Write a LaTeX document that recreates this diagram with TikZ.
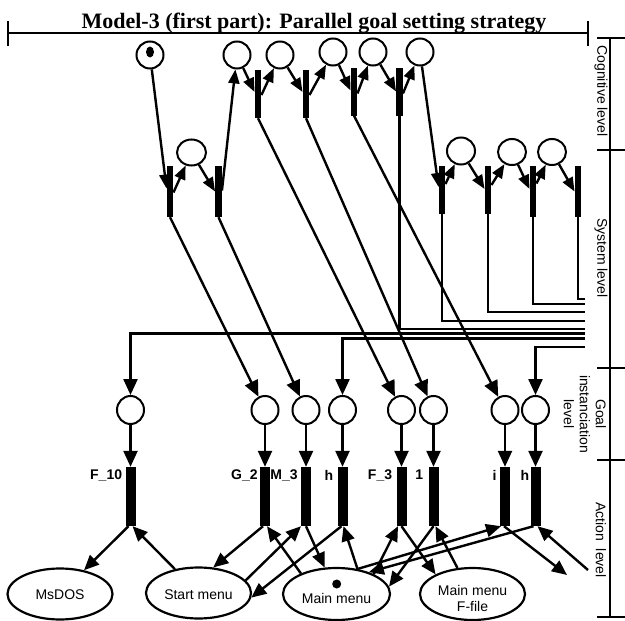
\documentclass[tikz,border=0pt]{standalone}
\usepackage{fontspec}
\setmainfont{Liberation Serif}
\setsansfont{Liberation Sans}
\usetikzlibrary{arrows.meta,shapes.geometric,calc}
\begin{document}
\begin{tikzpicture}[x=1pt,y=-1pt,
  bus/.style={line width=2.4pt},
  circ/.style={ellipse,draw,line width=2pt,minimum width=27pt,minimum height=27pt,inner sep=0pt},
  cbar/.style={rectangle,fill=black,minimum width=6.5pt,minimum height=48pt,inner sep=0pt},
  sbar/.style={cbar,minimum height=51pt},
  abar/.style={rectangle,fill=black,minimum width=10pt,minimum height=59pt,inner sep=0pt},
  conn/.style={line width=2.4pt,-{Triangle[length=14pt,width=11pt]}},
  bigconn/.style={line width=2.4pt,-{Triangle[length=16pt,width=14pt]}},
  aconn/.style={line width=2.4pt,-{Triangle[length=15pt,width=13pt]}},
  state/.style={ellipse,draw,line width=2.2pt,minimum width=105pt,minimum height=51pt,inner sep=0pt},
  stxt/.style={font=\sffamily\fontsize{14}{16}\selectfont,align=center,inner sep=0pt},
  lab/.style={font=\sffamily\bfseries\fontsize{14}{16}\selectfont,inner sep=0pt},
  lvl/.style={font=\sffamily\fontsize{14}{16}\selectfont,rotate=-90,inner sep=0pt,align=center},
]
\useasboundingbox (0,0) rectangle (625,621);

% title
\node[font=\bfseries\fontsize{22}{24}\selectfont,anchor=base,inner sep=0pt] (title) at (314,28) {Model-3 (first part): Parallel goal setting strategy};
\draw[bus] (8,33) -- (588,33);
\draw[bus] (8,21) -- (8,46);
\draw[bus] (588,21) -- (588,46);

% level scale
\draw[bus] (610,38) -- (610,617);
\foreach \y in {38,150,368,460,617} \draw[bus] (597,\y) -- (625,\y);
\node[lvl] (lcog) at (601,91) {Cognitive level};
\node[lvl] (lsys) at (601,258) {System level};
\node[lvl] (lgoal) at (585,414) {Goal\\instanciation\\level};
\node[lvl] (lact) at (601,540) {Action\ \ level};

% cognitive level
\node[circ] (c0) at (150,55) {};
\node[fill,ellipse,minimum width=8pt,minimum height=11pt,inner sep=0pt] (d0) at (150,52) {};
\node[circ] (c1) at (237,55) {};
\node[circ] (c2) at (280,55) {};
\node[circ] (c3) at (333,52) {};
\node[circ] (c4) at (373,52) {};
\node[circ] (c5) at (420,52) {};
\node[cbar] (b1) at (258,94) {};
\node[cbar] (b2) at (306,94) {};
\node[cbar] (b3) at (354,91.5) {};
\node[cbar] (b4) at (399.5,91.5) {};

% system level
\node[circ,minimum width=29pt,minimum height=26pt] (cs) at (191.5,152.5) {};
\node[sbar] (s1) at (170,191.5) {};
\node[sbar] (s2) at (218.5,191.5) {};
\node[circ,minimum width=28pt,minimum height=27pt] (ca) at (461,151) {};
\node[circ,minimum width=28pt,minimum height=26pt] (cb) at (512,152) {};
\node[circ,minimum width=28pt,minimum height=26pt] (cc) at (552,152) {};
\node[cbar] (s3) at (442,190) {};
\node[cbar] (s4) at (488,190) {};
\node[sbar] (s5) at (533,191.5) {};
\node[sbar] (s6) at (578,191.5) {};

% goal level
\foreach \i/\x in {1/130.5,2/265,3/306,4/342.5,5/401.5,6/433.5,7/505,8/535.5}{
  \node[circ,minimum width=27pt,minimum height=28pt] (g\i) at (\x,410) {};
  \node[abar] (a\i) at (\x,496.5) {};
}

% action labels
\node[lab,anchor=north east] (l1) at ([xshift=-3pt,yshift=-3pt]a1.north west) {F\_10};
\node[lab,anchor=north east] (l2) at ([xshift=-2pt,yshift=-3pt]a2.north west) {G\_2};
\node[lab,anchor=north east] (l3) at ([xshift=-3pt,yshift=-3pt]a3.north west) {M\_3};
\node[lab,anchor=north east] (l4) at ([xshift=-4pt,yshift=-3pt]a4.north west) {h};
\node[lab,anchor=north east] (l5) at ([xshift=-4pt,yshift=-3pt]a5.north west) {F\_3};
\node[lab,anchor=north east] (l6) at ([xshift=-5pt,yshift=-3pt]a6.north west) {1};
\node[lab,anchor=north east] (l7) at ([xshift=-3pt,yshift=-3pt]a7.north west) {i};
\node[lab,anchor=north east] (l8) at ([xshift=-1pt,yshift=-3pt]a8.north west) {h};

% states
\node[state] (ms) at (60,594) {};
\node[stxt] (mst) at (60,595) {MsDOS};
\node[state] (st) at (198.5,593) {};
\node[stxt] (stt) at (198.5,595) {Start menu};
\node[state,minimum width=107pt,minimum height=52pt] (mm) at (336.5,594) {};
\node[stxt] (mmt) at (336.5,598) {Main menu};
\node[fill,circle,minimum size=9pt,inner sep=0pt] (mmdot) at (336.7,584) {};
\node[state,minimum height=52pt] (mf) at (472.5,594) {};
\node[stxt] (mft) at (472.5,598) {Main menu\\F-file};

% free ends
\coordinate (e1) at (585,299);
\coordinate (e2) at (585,304);
\coordinate (e3) at (585,312);
\coordinate (e4) at (585,321);
\coordinate (e5) at (585,329);
\coordinate (e6) at (585,333.5);
\coordinate (e7) at (585,338.5);
\coordinate (e8) at (585,347);
\coordinate (fe1) at (567,575);
\coordinate (fe2) at (588,570);

% cognitive Y's
\draw[conn] (c1) -- ([yshift=2pt]b1.west);
\draw[conn] ([yshift=-1pt]b1.east) -- (c2);
\draw[conn] (c2) -- ([yshift=2pt]b2.west);
\draw[conn] ([yshift=-1pt]b2.east) -- (c3);
\draw[conn] (c3) -- ([yshift=1pt]b3.west);
\draw[conn] ([yshift=-2pt]b3.east) -- (c4);
\draw[conn] (c4) -- ([yshift=0pt]b4.west);
\draw[conn] ([yshift=-2pt]b4.east) -- (c5);

% between levels
\draw[conn] (c0) -- ([yshift=3pt]s1.west);
\draw[conn] ([yshift=1pt]s2.east) -- (c1);
\draw[conn] ([yshift=-1pt]s1.east) -- (cs);
\draw[conn] (cs) -- (s2.west);
\draw[conn] (c5) -- ([yshift=3pt]s3.west);
\draw[conn] ([yshift=6pt]s3.east) -- (ca);
\draw[conn] (ca) -- ([yshift=1pt]s4.west);
\draw[conn] ([yshift=5pt]s4.east) -- (cb);
\draw[conn] (cb) -- ([yshift=2.5pt]s5.west);
\draw[conn] ([yshift=8pt]s5.east) -- (cc);
\draw[conn] (cc) -- (s6.west);

% diagonals to goals
\draw[bigconn] (b1.south) -- (g5);
\draw[bigconn] (b2.south) -- (g6);
\draw[bigconn] (b3.south) -- (g7);
\draw[bigconn] (s1.south) -- (g2);
\draw[bigconn] (s2.south) -- (g3);

% bus
\draw[bus] (s6.south) |- (e1);
\draw[bus] (s5.south) |- (e2);
\draw[bus] (s4.south) |- (e3);
\draw[bus] (s3.south) |- (e4);
\draw[bus] (b4.south) |- (e5);
\draw[bigconn] (e6) -| (g1);
\draw[bigconn] (e7) -| (g4);
\draw[bigconn] (e8) -| (g8);

% goal -> action
\foreach \i in {1,...,8} \draw[bigconn] (g\i) -- (a\i);

% action level
\draw[aconn] ([xshift=-2pt]a1.south) -- (ms);
\draw[aconn] (st) -- ([xshift=2pt]a1.south);
\draw[aconn] ([xshift=-2pt]a2.south) -- (st.60);
\draw[aconn] (mm.150) -- ([xshift=2pt]a2.south);
\draw[aconn] (st.15) -- ([xshift=-5pt]a3.south);
\draw[aconn] (a3.south) -- (mm);
\draw[aconn] ([xshift=-1pt]a4.south) -- (st.-5);
\draw[aconn] (mm.50) -- ([xshift=1pt]a4.south);
\draw[aconn] (mm.28) -- ([xshift=-3.5pt]a5.south);
\draw[aconn] (a5.south) -- (mf.152);
\draw[aconn] (a6.south) -- (mm.8);
\draw[aconn] (mf.120) -- ([xshift=2pt]a6.south);
\draw[aconn] (mm.50) -- ([xshift=-4pt]a7.south);
\draw[aconn] ([xshift=-2pt]a8.south) -- (mm.34);
\draw[aconn] ([xshift=-1pt]a7.south) -- (fe1);
\draw[aconn] (fe2) -- ([xshift=2pt]a8.south);
\end{tikzpicture}
\end{document}
